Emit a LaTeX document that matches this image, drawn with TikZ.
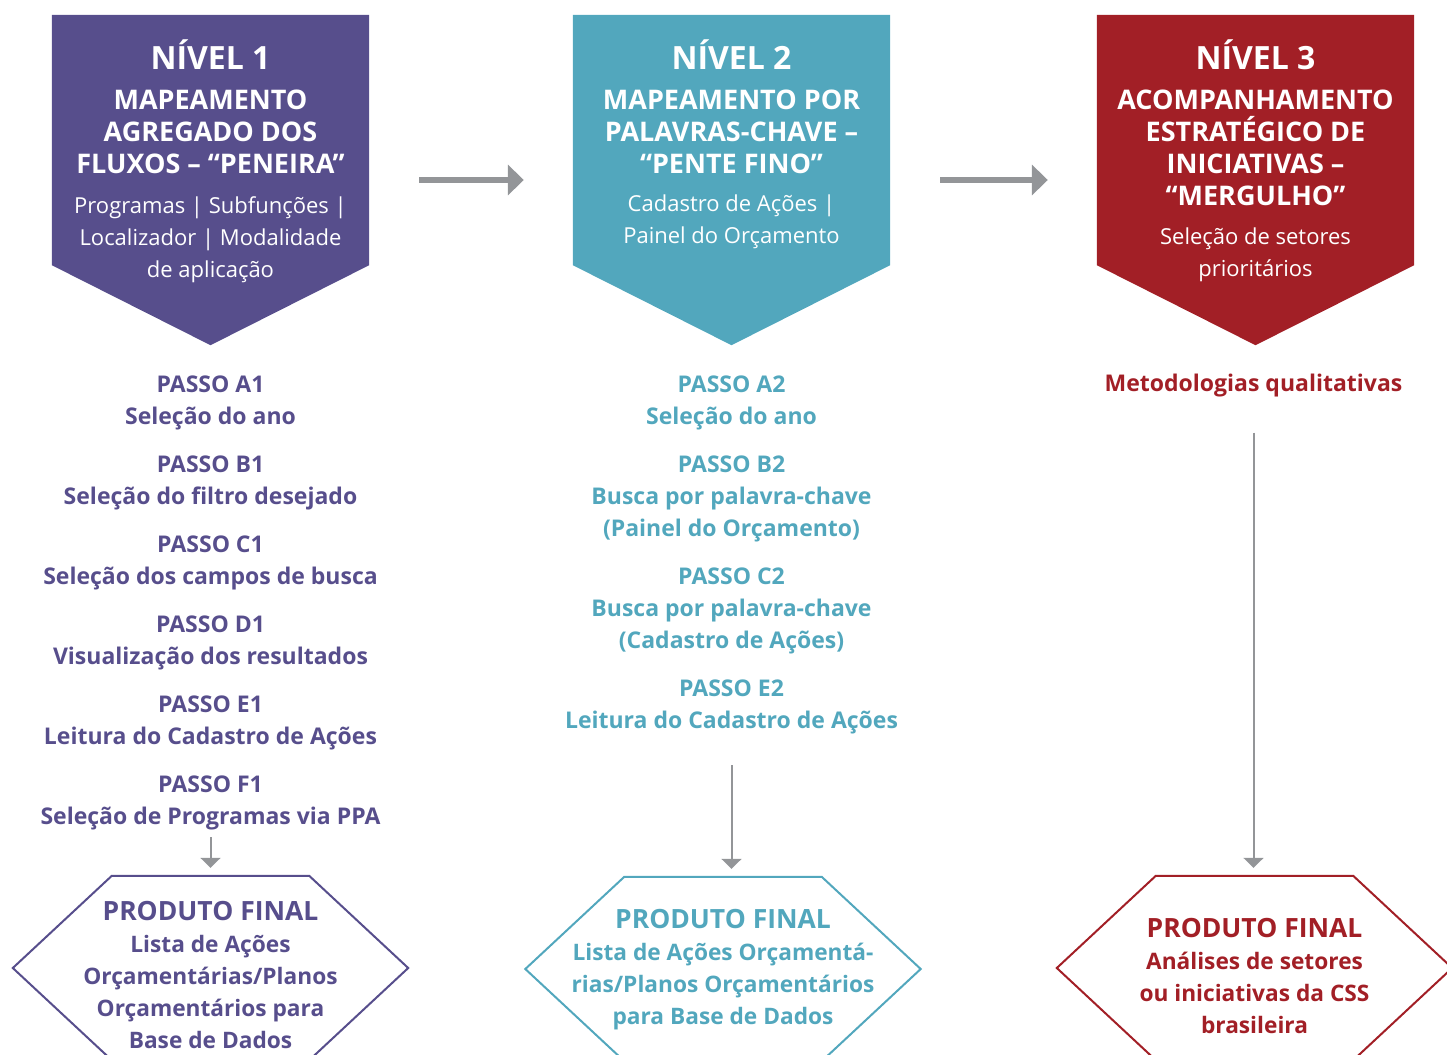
\documentclass[tikz,border=0pt]{standalone}
\usepackage{fontspec}
\setmainfont{Open Sans}
\usepackage{xcolor}
\usetikzlibrary{positioning, arrows.meta}

\definecolor{roxo}{HTML}{574E8C}
\definecolor{azul}{HTML}{52A7BD}
\definecolor{vermelho}{HTML}{A21F26}
\definecolor{cinza}{HTML}{939598}

\begin{document}
\begin{tikzpicture}[x=1pt, y=1pt, node distance=21.4pt,
    nivel/.style={minimum width=317pt, minimum height=330pt, inner sep=0pt},
    titulo/.style={text=white, align=center, inner sep=0pt, font=\bfseries\fontsize{27}{32}\selectfont, execute at end node=\strut},
    descr/.style={text=white, align=center, inner sep=0pt, font=\fontsize{22}{32}\selectfont, execute at begin node=\strut, execute at end node=\strut},
    passo/.style={text=#1, align=center, inner sep=0pt, font=\bfseries\fontsize{23}{32}\selectfont, execute at begin node=\strut, execute at end node=\strut},
    produto/.style={minimum width=395pt, minimum height=184pt, inner sep=0pt},
    final/.style={text=#1, align=center, inner sep=0pt, font=\bfseries\fontsize{22.7}{32}\selectfont, execute at begin node=\strut, execute at end node=\strut},
    seta/.style={-{Triangle[length=16pt,width=30pt]}, line width=6pt, draw=cinza},
    setav/.style={-{Triangle[length=10pt,width=20pt]}, line width=2pt, draw=cinza}]
    \useasboundingbox (0,0) rectangle (1447,-1054);

    % Levels
    \node (n1) [nivel] at (210.5,-180) {};
    \node (n2) [nivel] at (731.5,-180) {};
    \node (n3) [nivel] at (1255.5,-180) {};
    \fill[roxo] (n1.north west) -- (n1.north east) -- ([yshift=80pt]n1.south east) -- (n1.south) -- ([yshift=80pt]n1.south west) -- cycle;
    \fill[azul] (n2.north west) -- (n2.north east) -- ([yshift=80pt]n2.south east) -- (n2.south) -- ([yshift=80pt]n2.south west) -- cycle;
    \fill[vermelho] (n3.north west) -- (n3.north east) -- ([yshift=80pt]n3.south east) -- (n3.south) -- ([yshift=80pt]n3.south west) -- cycle;

    \node (t1) [titulo, below=25pt of n1.north] {{\fontsize{32}{32}\selectfont NÍVEL 1}\\[8pt]MAPEAMENTO\\AGREGADO DOS\\FLUXOS – “PENEIRA”};
    \node (d1) [descr, below=13pt of t1] {Programas | Subfunções |\\Localizador | Modalidade\\de aplicação};
    \node (t2) [titulo, below=25pt of n2.north] {{\fontsize{32}{32}\selectfont NÍVEL 2}\\[8pt]MAPEAMENTO POR\\PALAVRAS-CHAVE –\\“PENTE FINO”};
    \node (d2) [descr, below=11pt of t2] {Cadastro de Ações |\\Painel do Orçamento};
    \node (t3) [titulo, below=25pt of n3.north] {{\fontsize{32}{32}\selectfont NÍVEL 3}\\[8pt]ACOMPANHAMENTO\\ESTRATÉGICO DE\\INICIATIVAS –\\“MERGULHO”};
    \node (d3) [descr, below=12pt of t3] {Seleção de setores\\prioritários};

    % Steps
    \node (pa1) [passo=roxo, below=30pt of n1] {PASSO A1\\Seleção do ano};
    \node (pb1) [passo=roxo, below=of pa1] {PASSO B1\\Seleção do filtro desejado};
    \node (pc1) [passo=roxo, below=of pb1] {PASSO C1\\Seleção dos campos de busca};
    \node (pd1) [passo=roxo, below=of pc1] {PASSO D1\\Visualização dos resultados};
    \node (pe1) [passo=roxo, below=of pd1] {PASSO E1\\Leitura do Cadastro de Ações};
    \node (pf1) [passo=roxo, below=of pe1] {PASSO F1\\Seleção de Programas via PPA};

    \node (pa2) [passo=azul, below=30pt of n2] {PASSO A2\\Seleção do ano};
    \node (pb2) [passo=azul, below=of pa2] {PASSO B2\\Busca por palavra-chave\\(Painel do Orçamento)};
    \node (pc2) [passo=azul, below=of pb2] {PASSO C2\\Busca por palavra-chave\\(Cadastro de Ações)};
    \node (pe2) [passo=azul, below=of pc2] {PASSO E2\\Leitura do Cadastro de Ações};

    \node (mq3) [passo=vermelho, below=24pt of n3, xshift=-2pt] {Metodologias qualitativas};

    % Final products
    \node (h1) [produto] at (210.5,-968) {};
    \node (h2) [produto] at (723,-969) {};
    \node (h3) [produto] at (1254.5,-968) {};
    \foreach \h/\cor in {h1/roxo, h2/azul, h3/vermelho}
        \draw[\cor, line width=2pt] (\h.west) -- ([xshift=99pt]\h.north west) -- ([xshift=-99pt]\h.north east) -- (\h.east) -- ([xshift=-99pt]\h.south east) -- ([xshift=99pt]\h.south west) -- cycle;

    \node (f1) [final=roxo, yshift=-12pt] at (h1) {{\fontsize{26.5}{32}\selectfont PRODUTO FINAL}\\Lista de Ações\\Orçamentárias/Planos\\Orçamentários para\\Base de Dados};
    \node (f2) [final=azul, yshift=-3pt] at (h2) {{\fontsize{26.5}{32}\selectfont PRODUTO FINAL}\\Lista de Ações Orçamentá-\\rias/Planos Orçamentários\\para Base de Dados};
    \node (f3) [final=vermelho, yshift=-13pt] at (h3) {{\fontsize{26.5}{32}\selectfont PRODUTO FINAL}\\Análises de setores\\ou iniciativas da CSS\\brasileira};

    % Arrows
    \draw[seta, shorten <=50pt, shorten >=49pt] (n1) -- (n2);
    \draw[seta, shorten <=50pt, shorten >=49pt] (n2) -- (n3);
    \draw[setav, shorten <=3pt, shorten >=8pt] (pf1) -- (pf1 |- h1.north);
    \draw[setav, shorten <=27pt, shorten >=8pt] (pe2) -- (pe2 |- h2.north);
    \draw[setav, shorten <=31pt, shorten >=8pt] (mq3) -- (mq3 |- h3.north);

\end{tikzpicture}
\end{document}
